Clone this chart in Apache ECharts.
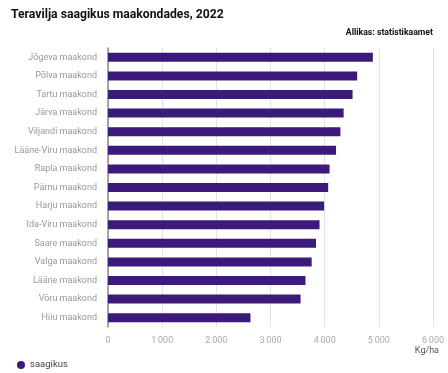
<!DOCTYPE html>
<html><head><meta charset="utf-8">
<script src="https://cdn.jsdelivr.net/npm/echarts@6/dist/echarts.min.js"></script>
<style>html,body{margin:0;padding:0;background:#fff}#c{width:448px;height:373px}</style>
</head><body><div id="c"></div>
<script>
const categories = ["Jõgeva maakond","Põlva maakond","Tartu maakond","Järva maakond","Viljandi maakond","Lääne-Viru maakond","Rapla maakond","Pärnu maakond","Harju maakond","Ida-Viru maakond","Saare maakond","Valga maakond","Lääne maakond","Võru maakond","Hiiu maakond"];
const saagikus = [4890,4600,4515,4350,4290,4210,4090,4065,3990,3905,3840,3760,3645,3555,2630];
const xTicks = [0,1000,2000,3000,4000,5000,6000];

const chart = echarts.init(document.getElementById('c'), null, {renderer:'canvas'});
const fmt = v => v === 0 ? '0' : String(v).replace(/\B(?=(\d{3})+(?!\d))/g, '\u2009');
chart.setOption({
  animation:false,
  textStyle:{fontFamily:'Roboto'},
  title:[
    {text:'Teravilja saagikus maakondades, 2022', left:6, top:4,
     textStyle:{fontFamily:'Roboto', fontWeight:'bold', fontSize:12.2, color:'#111'}},
    {text:'Allikas: statistikaamet', right:10, top:23,
     textStyle:{fontFamily:'Roboto', fontWeight:'bold', fontSize:8.7, color:'#111'}}
  ],
  legend:{left:12, top:355, itemWidth:8, itemHeight:8, icon:'circle', itemGap:9,
    textStyle:{fontFamily:'Roboto', fontSize:9.5, color:'#444'}, data:['saagikus']},
  grid:{left:108, right:15, top:48, bottom:46, containLabel:false},
  xAxis:{type:'value', min:xTicks[0], max:xTicks[xTicks.length-1], interval:1000,
    name:'Kg/ha', nameLocation:'end', nameGap:0,
    nameTextStyle:{fontFamily:'Roboto', fontSize:9, color:'#555', align:'right', verticalAlign:'top', padding:[19,-6,0,0]},
    axisLine:{show:false}, axisTick:{show:false},
    axisLabel:{formatter:fmt, color:'#aaa', fontSize:9, margin:9, fontFamily:'Roboto'},
    splitLine:{lineStyle:{color:'#e3e3e3', width:1}}},
  yAxis:{type:'category', data:categories, inverse:true,
    axisLine:{show:true, lineStyle:{color:'#888', width:1.5}}, axisTick:{show:false},
    axisLabel:{color:'#999', fontSize:9, margin:11, fontFamily:'Roboto'}},
  series:[{name:'saagikus', type:'bar', data:saagikus, barWidth:9,
    itemStyle:{color:'#3c1a7a'}}]
});
</script></body></html>
